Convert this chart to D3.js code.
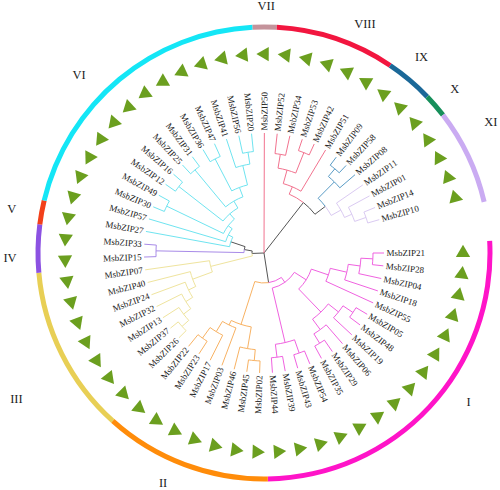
<!DOCTYPE html>
<html><head><meta charset="utf-8">
<script src="https://cdn.jsdelivr.net/npm/d3@7"></script>
<style>body{margin:0;background:#fff}</style>
</head><body>
<svg id="chart" width="500" height="490"></svg>
<script>
// ---- DATA ----
// Tree parts in Newick; number after ')' = node distance from root (leaves sit at 120)
const treeIup   = "((((21,28)109,04)97,18)85,55)68";
const treeImid  = "(((05,48)107,19)95,(06,(29,35)106)95)82";
const treeIlow  = "((54,43)106,(39,44)105)92";
const treeII    = "(((02,45)108,46)97,(03,(17,(23,22)105)92)80)75";
const treeIII   = "((((((26,37)110,13)101,32)92,24)84,40)76,07)55";
const treeIV    = "(15,33)108";
const treeVI    = "(57,((30,49)108,((12,16)108,((25,31)108,((36,47)106,(41,(56,20)102)90)70)60)52)45)40";
const treeVIII  = "(((52,34)100,(53,42)108)86,51)72";
const treeIXXI  = "(((09,58)110,08)100,(11,(01,(14,10)108)96)88)77";
const newick = "(((( " + treeIup + "," + treeImid + ")50," + treeIlow + ")36," + treeII + ")30,(" +
  treeIII + ",(" + treeIV + ",(27," + treeVI + ")35)20)12,50,(" + treeVIII + "," + treeIXXI + ")64)0;";

const clades = ["I","II","III","IV","V","VI","VII","VIII","IX","X","XI"];
const cladeLeaves = [
  ["21","28","04","18","55","05","48","19","06","29","35","54","43","39","44"],
  ["02","45","46","03","17","23","22"],
  ["26","37","13","32","24","40","07"],
  ["15","33"],
  ["27"],
  ["57","30","49","12","16","25","31","36","47","41","56","20"],
  ["50"],
  ["52","34","53","42","51"],
  ["09","58"],
  ["08"],
  ["11","01","14","10"]
];
const leafPrefix = "MsbZIP";

// ---- STYLE / LAYOUT ----
const cx = 264, cy = 253;
const R_LEAF = 120, R_LABEL = 122.5, R_TRI = 199, R_RING = 226;
const arcColor = {I:"#ff14c8",II:"#ff8c0a",III:"#e8cf55",IV:"#8c52e2",V:"#f2401a",VI:"#14e6f6",
  VII:"#c4939b",VIII:"#f2163f",IX:"#1b6898",X:"#178f5b",XI:"#caabf2"};
const branchGroup = {I:"I",II:"II",III:"III",IV:"IV",V:"V",VI:"VI",VII:"VIII",VIII:"VIII",IX:"IX",X:"IX",XI:"XI"};
const branchColor = {I:"#f062e0",II:"#f8b263",III:"#efe49e",IV:"#a88be8",V:"#6fe4f0",VI:"#6fe4f0",
  VIII:"#f2738f",IX:"#5a9cc6",XI:"#dacaf2"};
const grayBranch = "#555";
const labelPlace = {I:[126,253],II:[203.7,251],III:[239.6,287],IV:[269,254],V:[280,256],VI:[314,257],
  VII:[0.5,247],VIII:[23.7,251],IX:[38.7,252],X:[49.2,252],XI:[60,262]};

// ---- PARSE ----
function parseNewick(s){
  s = s.replace(/\s/g,"");
  let i = 0;
  function node(){
    if (s[i] === "("){
      i++;
      const children = [node()];
      while (s[i] === ","){ i++; children.push(node()); }
      i++; // ')'
      let num = "";
      while (i < s.length && /[0-9.]/.test(s[i])) num += s[i++];
      return {children, depth: +num};
    }
    let name = "";
    while (i < s.length && /[0-9A-Za-z]/.test(s[i])) name += s[i++];
    return {name};
  }
  return node();
}

const root = d3.hierarchy(parseNewick(newick), d => d.children);
const leaves = root.leaves();
const leafClade = {};
cladeLeaves.forEach((arr, k) => arr.forEach(n => leafClade[n] = clades[k]));

const nLeaves = leaves.length;
const step = 350 / nLeaves;
const angle = d3.scalePoint().domain(leaves.map(d => d.data.name)).range([90, 90 + step * (nLeaves - 1)]);
const radius = d3.scaleLinear().domain([0, 120]).range([0, R_LEAF]);

root.eachAfter(n => {
  if (!n.children){
    n.a = angle(n.data.name); n.r = radius(120);
    n.group = branchGroup[leafClade[n.data.name]];
  } else {
    n.a = d3.mean(n.children, c => c.a);
    n.r = radius(n.data.depth);
    const g = new Set(n.children.map(c => c.group));
    n.group = (g.size === 1 && !g.has(null)) ? [...g][0] : null;
  }
});

const rad = a => a * Math.PI / 180;
const pt = (r, a) => [cx + r * Math.sin(rad(a)), cy - r * Math.cos(rad(a))];

const svg = d3.select("#chart");

// ---- BRANCHES ----
const gBr = svg.append("g").attr("fill", "none").attr("stroke-width", 1);
root.descendants().slice(1).sort((a,b) => (a.group ? 1 : 0) - (b.group ? 1 : 0)).forEach(n => {
  const P = n.parent;
  const p = d3.path();
  p.moveTo(...pt(P.r, P.a));
  if (Math.abs(n.a - P.a) > 1e-6 && P.r > 0)
    p.arc(cx, cy, P.r, rad(P.a - 90), rad(n.a - 90), n.a < P.a);
  else p.moveTo(...pt(P.r, n.a));
  p.lineTo(...pt(n.r, n.a));
  gBr.append("path").attr("d", p.toString())
    .attr("stroke", n.group ? branchColor[n.group] : grayBranch);
});

// ---- LEAF LABELS ----
svg.append("g").selectAll("text").data(leaves).join("text")
  .attr("transform", d => {
    const [x, y] = pt(R_LABEL, d.a);
    const a = ((d.a % 360) + 360) % 360;
    return `translate(${x},${y}) rotate(${a < 180 ? a - 90 : a + 90})`;
  })
  .attr("text-anchor", d => (((d.a % 360) + 360) % 360) < 180 ? "start" : "end")
  .attr("dy", "0.33em")
  .attr("font-family", "'Liberation Serif','Times New Roman',serif")
  .attr("font-size", 9).attr("fill", "#222")
  .text(d => leafPrefix + d.data.name);

// ---- TRIANGLES ----
const tri = d3.symbol(d3.symbolTriangle, 88);
svg.append("g").selectAll("path").data(leaves).join("path")
  .attr("d", tri)
  .attr("fill", "#6b9f1f")
  .attr("transform", d => { const [x, y] = pt(R_TRI, d.a); return `translate(${x},${y}) rotate(${d.a - 90})`; });

// ---- OUTER CLADE RING ----
const ringArc = d3.arc().innerRadius(R_RING - 2.5).outerRadius(R_RING + 2.5);
const ring = clades.map((c, k) => {
  const as = cladeLeaves[k].map(n => angle(n));
  return {clade: c, a0: d3.min(as) - step / 2, a1: d3.max(as) + step / 2};
});
svg.append("g").attr("transform", `translate(${cx},${cy})`)
  .selectAll("path").data(ring).join("path")
  .attr("d", d => ringArc({startAngle: rad(d.a0), endAngle: rad(d.a1)}))
  .attr("fill", d => arcColor[d.clade]);

// ---- CLADE LABELS ----
svg.append("g").selectAll("text").data(ring).join("text")
  .attr("x", d => pt(labelPlace[d.clade][1], labelPlace[d.clade][0])[0])
  .attr("y", d => pt(labelPlace[d.clade][1], labelPlace[d.clade][0])[1])
  .attr("text-anchor", "middle").attr("dy", "0.35em")
  .attr("font-family", "'Liberation Serif','Times New Roman',serif")
  .attr("font-size", 12.5).attr("fill", "#222")
  .text(d => d.clade);
</script>
</body></html>
